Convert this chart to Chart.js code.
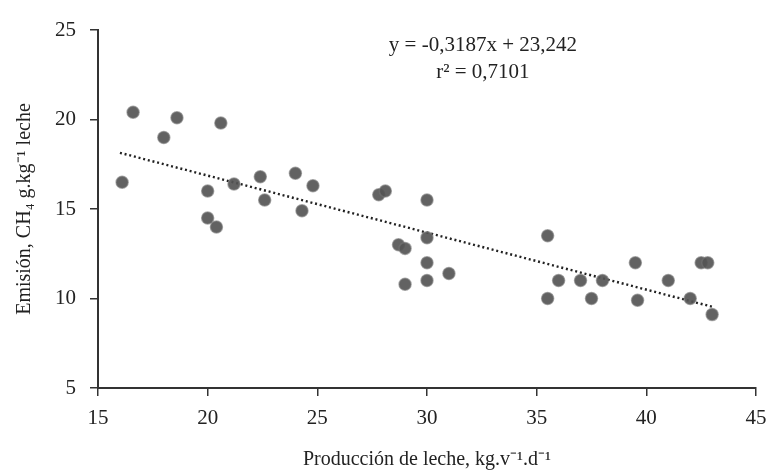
<!DOCTYPE html>
<html>
<head>
<meta charset="utf-8">
<script src="https://cdn.jsdelivr.net/npm/chart.js@4/dist/chart.umd.min.js"></script>
<style>
html,body{margin:0;padding:0;background:#fff;}
#wrap{width:769px;height:474px;position:relative;}
</style>
</head>
<body>
<div id="wrap"><canvas id="c" width="769" height="474"></canvas></div>
<script>
// Data
const milkX = [16.1, 16.6, 18.0, 18.6, 20.0, 20.0, 20.4, 20.6, 21.2, 22.4, 22.6, 24.0, 24.3, 24.8,
               27.8, 28.1, 30.0, 28.7, 29.0, 30.0, 30.0, 29.0, 30.0, 31.0,
               35.5, 35.5, 36.0, 37.0, 37.5, 38.0, 39.5, 39.6, 41.0, 42.0, 42.5, 42.8, 43.0];
const methaneY = [16.5, 20.4, 19.0, 20.1, 16.0, 14.5, 14.0, 19.8, 16.4, 16.8, 15.5, 17.0, 14.9, 16.3,
                  15.8, 16.0, 15.5, 13.0, 12.8, 13.4, 12.0, 10.8, 11.0, 11.4,
                  13.5, 10.0, 11.0, 11.0, 10.0, 11.0, 12.0, 9.9, 11.0, 10.0, 12.0, 12.0, 9.1];
const trendX = [16, 43];
const trendY = [18.14, 9.54];
const xTicks = [15, 20, 25, 30, 35, 40, 45];
const yTicks = [5, 10, 15, 20, 25];
const equationLines = ['y = -0,3187x + 23,242', 'r\u00B2 = 0,7101'];
const xTitle = 'Producci\u00F3n de leche, kg.v\u207B\u00B9.d\u207B\u00B9';
const yTitle = 'Emisi\u00F3n, CH\u2084 g.kg\u207B\u00B9 leche';

const FONT = '"Liberation Serif", "Times New Roman", serif';
const AXIS = '#333333';

const scatterData = milkX.map((x, i) => ({x: x, y: methaneY[i]}));
const trendData = trendX.map((x, i) => ({x: x, y: trendY[i]}));

const equationPlugin = {
  id: 'equation',
  afterDraw(chart) {
    const ctx = chart.ctx;
    const xs = chart.scales.x, ys = chart.scales.y;
    ctx.save();
    ctx.fillStyle = '#222';
    ctx.font = '21px ' + FONT;
    ctx.textAlign = 'center';
    ctx.textBaseline = 'middle';
    const cx = xs.getPixelForValue(32.55);
    ctx.fillText(equationLines[0], cx, ys.getPixelForValue(24.15));
    ctx.fillText(equationLines[1], cx, ys.getPixelForValue(22.65));
    ctx.restore();
  }
};

new Chart(document.getElementById('c'), {
  type: 'scatter',
  data: {
    datasets: [
      {
        label: 'trend',
        type: 'line',
        data: trendData,
        borderColor: '#222222',
        borderWidth: 2.4,
        borderDash: [2, 2.8],
        pointRadius: 0,
        fill: false,
        order: 2
      },
      {
        label: 'obs',
        data: scatterData,
        backgroundColor: 'rgba(85,85,85,0.92)',
        borderColor: 'rgba(115,115,115,0.6)',
        borderWidth: 1.5,
        pointRadius: 6,
        pointHoverRadius: 6,
        order: 1
      }
    ]
  },
  options: {
    responsive: false,
    animation: false,
    devicePixelRatio: 1,
    layout: {padding: {top: 30, right: 13, left: 0, bottom: 2}},
    plugins: {legend: {display: false}, tooltip: {enabled: false}},
    scales: {
      x: {
        type: 'linear',
        min: 15, max: 45,
        afterBuildTicks: s => { s.ticks = xTicks.map(v => ({value: v})); },
        afterFit: s => { s.height = 84; s.paddingLeft = 0; s.paddingRight = 0; },
        grid: {drawOnChartArea: false, drawTicks: true, tickLength: 8, color: AXIS, lineWidth: 1.5},
        border: {display: true, color: AXIS, width: 2},
        ticks: {color: '#222', font: {family: FONT, size: 21}, padding: 10, maxRotation: 0},
        title: {display: true, text: xTitle, color: '#222', font: {family: FONT, size: 20}, padding: {top: 10, bottom: 0}}
      },
      y: {
        type: 'linear',
        min: 5, max: 25,
        afterBuildTicks: s => { s.ticks = yTicks.map(v => ({value: v})); },
        afterFit: s => { s.width = 98; s.paddingTop = 0; s.paddingBottom = 0; },
        grid: {drawOnChartArea: false, drawTicks: true, tickLength: 8, color: AXIS, lineWidth: 1.5},
        border: {display: true, color: AXIS, width: 2},
        ticks: {color: '#222', font: {family: FONT, size: 21}, padding: 14},
        title: {display: true, text: yTitle, color: '#222', font: {family: FONT, size: 20}, padding: {top: 13, bottom: 4}}
      }
    }
  },
  plugins: [equationPlugin]
});
</script>
</body>
</html>
